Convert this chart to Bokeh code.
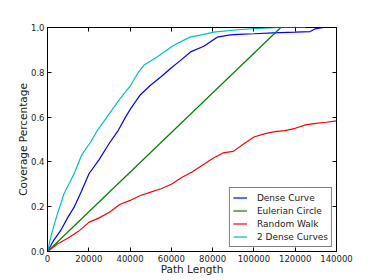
from bokeh.plotting import figure
from bokeh.models import Range1d, FixedTicker, PrintfTickFormatter, LinearAxis, Legend, LegendItem
from bokeh.embed import file_html
from bokeh.resources import INLINE

# Data
dense_x = [0, 3000, 6400, 9700, 12900, 16500, 20100, 25000, 29800, 34300, 37800, 40300, 45000,
           49900, 55000, 59600, 64000, 69300, 75700, 82200, 88600, 95000, 100000, 109500, 120000,
           127300, 129700, 133700]
dense_y = [0, 0.05, 0.094, 0.15, 0.198, 0.27, 0.347, 0.41, 0.481, 0.541, 0.60, 0.638, 0.70,
           0.742, 0.78, 0.817, 0.85, 0.891, 0.916, 0.957, 0.967, 0.970, 0.972, 0.976, 0.979,
           0.982, 0.994, 1.0]

euler_x = [0, 113000]
euler_y = [0, 1.0]

random_x = [0, 5000, 10000, 15000, 20000, 25000, 30000, 35000, 40000, 45000, 50000, 55000, 60000,
            65000, 70000, 75000, 80000, 85000, 90000, 95000, 100000, 105000, 110000, 115000,
            120000, 125000, 130000, 135000, 140000]
random_y = [0, 0.035, 0.06, 0.09, 0.13, 0.15, 0.175, 0.21, 0.228, 0.25, 0.265, 0.28, 0.30,
            0.33, 0.355, 0.385, 0.415, 0.44, 0.447, 0.48, 0.511, 0.525, 0.535, 0.54,
            0.55, 0.565, 0.572, 0.577, 0.583]

dense2_x = [0, 2000, 4800, 8000, 12900, 16500, 21000, 24200, 30600, 35000, 40300, 44000, 46700,
            53200, 61200, 69300, 74100, 80500, 93400, 105000, 112000, 125000]
dense2_y = [0, 0.08, 0.168, 0.258, 0.347, 0.43, 0.49, 0.541, 0.623, 0.68, 0.742, 0.80, 0.831,
            0.869, 0.921, 0.958, 0.966, 0.979, 0.991, 0.997, 1.0, 1.0]

x_ticks = [0, 20000, 40000, 60000, 80000, 100000, 120000, 140000]
y_ticks = [0.0, 0.2, 0.4, 0.6, 0.8, 1.0]

FONT = "DejaVu Sans"

p = figure(width=374, height=280, output_backend="svg", toolbar_location=None,
           x_range=Range1d(0, 140000), y_range=Range1d(0, 1.0),
           min_border_left=47, min_border_right=38, min_border_top=27, min_border_bottom=29,
           background_fill_color="white", border_fill_color="white")
p.grid.visible = False
p.outline_line_color = "black"
p.outline_line_width = 1

r1 = p.line(dense_x, dense_y, line_color="#0000ff", line_width=1.2)
r2 = p.line(euler_x, euler_y, line_color="#008000", line_width=1.2)
r3 = p.line(random_x, random_y, line_color="#ff0000", line_width=1.2)
r4 = p.line(dense2_x, dense2_y, line_color="#00bfbf", line_width=1.2)

def style_axis(ax, ticks, fmt, show_labels=True):
    ax.ticker = FixedTicker(ticks=ticks)
    ax.formatter = PrintfTickFormatter(format=fmt)
    ax.major_tick_in = 4
    ax.major_tick_out = 0
    ax.minor_tick_in = 0
    ax.minor_tick_out = 0
    ax.major_tick_line_color = "black"
    ax.axis_line_color = "black"
    ax.major_label_text_font = FONT
    ax.major_label_text_font_size = "8.5px"
    ax.major_label_text_color = "#222222" if show_labels else None
    ax.major_label_standoff = 3 if show_labels else 0
    ax.axis_label_text_font = FONT
    ax.axis_label_text_font_size = "10.5px"
    ax.axis_label_text_font_style = "normal"
    ax.axis_label_text_color = "#222222"

style_axis(p.xaxis[0], x_ticks, "%d")
p.xaxis[0].axis_label = "Path Length"
p.xaxis[0].axis_label_standoff = -2
style_axis(p.yaxis[0], y_ticks, "%.1f")
p.yaxis[0].axis_label = "Coverage Percentage"
p.yaxis[0].axis_label_standoff = -1

top_ax = LinearAxis()
style_axis(top_ax, x_ticks, "%d", show_labels=False)
top_ax.axis_line_color = None
p.add_layout(top_ax, "above")
right_ax = LinearAxis()
style_axis(right_ax, y_ticks, "%.1f", show_labels=False)
right_ax.axis_line_color = None
p.add_layout(right_ax, "right")

legend = Legend(items=[
    LegendItem(label="Dense Curve", renderers=[r1]),
    LegendItem(label="Eulerian Circle", renderers=[r2]),
    LegendItem(label="Random Walk", renderers=[r3]),
    LegendItem(label="2 Dense Curves", renderers=[r4]),
], location="bottom_right")
legend.label_text_font = FONT
legend.label_text_font_size = "9px"
legend.label_text_color = "#222222"
legend.glyph_width = 14
legend.glyph_height = 13
legend.label_height = 13
legend.label_standoff = 10
legend.spacing = 0
legend.padding = 3
legend.margin = 4
legend.border_line_color = "black"
legend.border_line_width = 1
legend.background_fill_color = "white"
legend.background_fill_alpha = 1.0
p.add_layout(legend, "center")

open("out.html", "w").write(file_html(p, INLINE))
